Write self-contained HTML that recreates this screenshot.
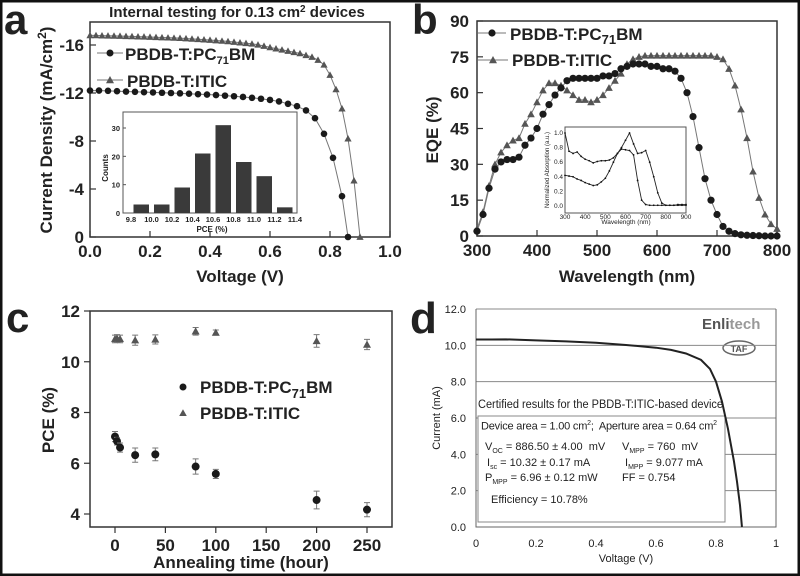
<!DOCTYPE html>
<html><head><meta charset="utf-8"><style>
html,body{margin:0;padding:0;background:#fff}
svg{display:block}
.b{font-family:"Liberation Sans",sans-serif;font-weight:bold;fill:#222}
.r{font-family:"Liberation Sans",sans-serif;fill:#222}
</style></head><body>
<svg id="fig" width="800" height="576" viewBox="0 0 800 576" xmlns="http://www.w3.org/2000/svg">
<rect x="0" y="0" width="800" height="576" fill="#fff"/>
<rect x="1" y="1" width="798" height="574" fill="none" stroke="#111" stroke-width="3"/>
<!-- Panel a static -->
<text class="b" x="4" y="34" font-size="42">a</text>
<text class="b" x="237" y="17" font-size="15" text-anchor="middle">Internal testing for 0.13 cm<tspan dy="-5" font-size="10">2</tspan><tspan dy="5"> devices</tspan></text>
<text class="b" x="0" y="0" font-size="17" text-anchor="middle" transform="translate(52,130) rotate(-90)">Current Density (mA/cm<tspan dy="-6" font-size="12">2</tspan><tspan dy="6">)</tspan></text>
<text class="b" x="240" y="282" font-size="17" text-anchor="middle">Voltage (V)</text>
<text class="b" x="125" y="60" font-size="17">PBDB-T:PC<tspan dy="4" font-size="11">71</tspan><tspan dy="-4">BM</tspan></text>
<text class="b" x="127" y="87" font-size="17">PBDB-T:ITIC</text>
<text class="r" x="210" y="119" font-size="8.5" text-anchor="middle">PCE Distribution of PBDB-T:ITIC devices</text>
<text class="b" x="0" y="0" font-size="8" text-anchor="middle" transform="translate(108,168) rotate(-90)">Counts</text>
<text class="b" x="212" y="232" font-size="8" text-anchor="middle">PCE (%)</text>
<!-- Panel b static -->
<text class="b" x="412" y="34" font-size="42">b</text>
<text class="b" x="0" y="0" font-size="17" text-anchor="middle" transform="translate(438,130) rotate(-90)">EQE (%)</text>
<text class="b" x="627" y="282" font-size="17" text-anchor="middle">Wavelength (nm)</text>
<text class="b" x="510" y="40" font-size="17">PBDB-T:PC<tspan dy="4" font-size="13">71</tspan><tspan dy="-4">BM</tspan></text>
<text class="b" x="512" y="66" font-size="17">PBDB-T:ITIC</text>
<text class="r" x="0" y="0" font-size="6" text-anchor="middle" transform="translate(549,170) rotate(-90)">Normalized Absorption (a.u.)</text>
<text class="r" x="626" y="224" font-size="6.5" text-anchor="middle">Wavelength (nm)</text>
<!-- Panel c static -->
<text class="b" x="6" y="332" font-size="42">c</text>
<text class="b" x="0" y="0" font-size="17" text-anchor="middle" transform="translate(54,420) rotate(-90)">PCE (%)</text>
<text class="b" x="241" y="568" font-size="17" text-anchor="middle">Annealing time (hour)</text>
<text class="b" x="200" y="393" font-size="17">PBDB-T:PC<tspan dy="5" font-size="13">71</tspan><tspan dy="-5">BM</tspan></text>
<text class="b" x="200" y="419" font-size="17">PBDB-T:ITIC</text>
<!-- Panel d static -->
<text class="b" x="410" y="333" font-size="44">d</text>
<text class="r" x="0" y="0" font-size="11" text-anchor="middle" transform="translate(440,418) rotate(-90)">Current (mA)</text>
<text class="r" x="626" y="562" font-size="11" text-anchor="middle">Voltage (V)</text>
<text class="b" x="702" y="329" font-size="15" style="fill:#555">Enli<tspan style="fill:#999">tech</tspan></text>
<ellipse cx="739" cy="348" rx="16" ry="7" fill="#fff" stroke="#666" stroke-width="1.5"/>
<text class="b" x="739" y="352" font-size="9" text-anchor="middle" style="fill:#555">TAF</text>
</svg>
<script>
const NS='http://www.w3.org/2000/svg';
const fig=document.getElementById('fig');
function mk(tag,attrs){const e=document.createElementNS(NS,tag);for(const k in attrs)e.setAttribute(k,attrs[k]);fig.appendChild(e);return e;}
function lin(d0,d1,r0,r1){return v=>r0+(v-d0)*(r1-r0)/(d1-d0);}

// ===== Panel a data =====
const aPcV=[0,0.03,0.06,0.09,0.12,0.15,0.18,0.21,0.24,0.27,0.30,0.33,0.36,0.39,0.42,0.45,0.48,0.51,0.54,0.57,0.60,0.63,0.66,0.69,0.72,0.75,0.78,0.81,0.84,0.86];
const aPcJ=[-12.2,-12.2,-12.18,-12.15,-12.12,-12.1,-12.07,-12.05,-12.02,-12.0,-11.97,-11.94,-11.9,-11.87,-11.83,-11.78,-11.73,-11.67,-11.6,-11.52,-11.42,-11.3,-11.1,-10.9,-10.55,-9.9,-8.6,-6.6,-3.4,0];
const aItV=[0,0.02,0.04,0.06,0.08,0.10,0.12,0.14,0.16,0.18,0.20,0.22,0.24,0.26,0.28,0.30,0.32,0.34,0.36,0.38,0.40,0.42,0.44,0.46,0.48,0.50,0.52,0.54,0.56,0.58,0.60,0.62,0.64,0.66,0.68,0.70,0.72,0.74,0.76,0.78,0.80,0.82,0.84,0.86,0.88,0.90];
const aItJ=[-16.8,-16.8,-16.78,-16.77,-16.76,-16.75,-16.73,-16.72,-16.7,-16.69,-16.67,-16.65,-16.63,-16.61,-16.59,-16.57,-16.54,-16.51,-16.48,-16.45,-16.42,-16.38,-16.34,-16.3,-16.25,-16.2,-16.15,-16.1,-16.02,-15.92,-15.8,-15.7,-15.6,-15.5,-15.4,-15.3,-15.15,-15.0,-14.75,-14.35,-13.5,-12.3,-10.7,-8.2,-4.7,0];
const aXTicks=[0,0.2,0.4,0.6,0.8,1.0];
const aXLabels=['0.0','0.2','0.4','0.6','0.8','1.0'];
const aYTicks=[0,-4,-8,-12,-16];
const aYLabels=['0','-4','-8','-12','-16'];
const histBins=[9.8,10.0,10.2,10.4,10.6,10.8,11.0,11.2];
const histCounts=[3,3,9,21,31,18,13,2];
const histXTicks=[9.8,10.0,10.2,10.4,10.6,10.8,11.0,11.2,11.4];
const histXLabels=['9.8','10.0','10.2','10.4','10.6','10.8','11.0','11.2','11.4'];
const histYTicks=[0,10,20,30];

// ===== Panel b data =====
const bWl=[300,310,320,330,340,350,360,370,380,390,400,410,420,430,440,450,460,470,480,490,500,510,520,530,540,550,560,570,580,590,600,610,620,630,640,650,660,670,680,690,700,710,720,730,740,750,760,770,780,790,800];
const bPc=[2,9,20,28,31,32,32,33,38,41,45,51,55,59,62,65,66,66,66,66,66,67,67,68,70,71,72,72,72,71,71,70,70,69,66,60,50,37,24,15,9,4,2,1,0.5,0.3,0.2,0.1,0,0,0];
const bIt=[3,10,21,30,35,38,40,41,47,51,56,61,64,64,63,61,59,57,57,56,57,59,62,65,68,72,74,75,75.5,75.5,75.5,75.5,75.5,75.5,75.5,75.5,75.5,75.5,75.5,75.5,75,74,70,63,53,41,27,16,9,5,3];
const bXTicks=[300,400,500,600,700,800];
const bYTicks=[0,15,30,45,60,75,90];
const absWl=[300,320,340,360,380,400,420,440,460,480,500,520,540,560,580,600,620,640,660,680,700,720,740,760,780,800,820,840,860,880,900];
const absPc=[1.0,0.75,0.72,0.74,0.68,0.64,0.62,0.59,0.61,0.62,0.62,0.63,0.66,0.72,0.78,0.77,0.76,0.7,0.35,0.08,0.02,0.01,0.01,0.01,0.01,0.01,0.01,0.01,0.01,0.01,0.01];
const absIt=[0.42,0.41,0.4,0.37,0.35,0.32,0.3,0.28,0.29,0.33,0.38,0.48,0.6,0.72,0.8,0.9,1.0,0.85,0.72,0.73,0.76,0.6,0.4,0.18,0.04,0.01,0.01,0.01,0.02,0.02,0.02];
const absXTicks=[300,400,500,600,700,800,900];
const absYTicks=[0,0.2,0.4,0.6,0.8,1.0];

// ===== Panel c data =====
const cTime=[0,2,5,20,40,80,100,200,250];
const cPc=[7.05,6.87,6.62,6.32,6.35,5.87,5.58,4.55,4.17];
const cPcErr=[0.2,0.15,0.18,0.28,0.25,0.3,0.18,0.35,0.28];
const cIt=[10.9,10.92,10.9,10.85,10.88,11.2,11.15,10.82,10.68];
const cItErr=[0.15,0.15,0.15,0.2,0.18,0.15,0.1,0.25,0.2];
const cXTicks=[0,50,100,150,200,250];
const cYTicks=[4,6,8,10,12];

// ===== Panel d data =====
const dV=[0,0.05,0.1,0.2,0.3,0.4,0.5,0.6,0.65,0.7,0.75,0.78,0.8,0.82,0.84,0.86,0.87,0.88,0.8865];
const dI=[10.32,10.32,10.33,10.27,10.22,10.14,10.02,9.87,9.75,9.55,9.2,8.7,8.0,6.9,5.4,3.6,2.5,1.2,0];
const dXTicks=[0,0.2,0.4,0.6,0.8,1];
const dXLabels=['0','0.2','0.4','0.6','0.8','1'];
const dYTicks=[0,2,4,6,8,10,12];
const dYLabels=['0.0','2.0','4.0','6.0','8.0','10.0','12.0'];

function tri(x,y,s,fill){return mk('polygon',{points:`${x},${y-s} ${x-s},${y+s*0.8} ${x+s},${y+s*0.8}`,fill:fill});}
function poly(xs,ys,fx,fy,color,w){return mk('polyline',{points:xs.map((v,i)=>fx(v)+','+fy(ys[i])).join(' '),fill:'none',stroke:color,'stroke-width':w});}

// ---------- Panel a ----------
{
const X=lin(0,1,90,390), Y=lin(0,-16,237,45);
let e=mk('rect',{x:90,y:22,width:300,height:215,fill:'none',stroke:'#333','stroke-width':1.5});


aXTicks.forEach((t,i)=>{
  let k=mk('line',{x1:X(t),x2:X(t),y1:237,y2:231,stroke:'#333','stroke-width':1.2});
  
  
  let l=mk('text',{x:X(t),y:257,'font-size':17,'text-anchor':'middle',class:'b'});l.textContent=aXLabels[i];
  
  
});
aYTicks.forEach((t,i)=>{
  let k=mk('line',{x1:90,x2:96,y1:Y(t),y2:Y(t),stroke:'#333','stroke-width':1.2});
  
  
  let l=mk('text',{x:84,y:Y(t)+6,'font-size':17,'text-anchor':'end',class:'b'});l.textContent=aYLabels[i];
  
  
});
let p1=poly(aItV,aItJ,X,Y,'#777',1);


aItV.forEach((v,i)=>{let m=tri(X(v),Y(aItJ[i]),3.6,'#555');
  
  });
let p2=poly(aPcV,aPcJ,X,Y,'#777',1);


aPcV.forEach((v,i)=>{let m=mk('circle',{cx:X(v),cy:Y(aPcJ[i]),r:3.3,fill:'#1a1a1a'});
  
  });
let lg1=mk('line',{x1:97,x2:123,y1:53,y2:53,stroke:'#777'});


let lm1=mk('circle',{cx:110,cy:53,r:3.5,fill:'#1a1a1a'});


let lg2=mk('line',{x1:97,x2:123,y1:80,y2:80,stroke:'#777'});


let lm2=tri(110,80,4,'#555');


const HX=lin(9.8,11.4,131,295), HY=lin(0,30,213,128);
let ib=mk('rect',{x:123,y:112,width:174,height:101,fill:'#fff',stroke:'#555','stroke-width':1});


histBins.forEach((b,i)=>{
  const x0=HX(b)+2.5, x1=HX(b+0.2)-2.5;
  let r=mk('rect',{x:x0,y:HY(histCounts[i]),width:x1-x0,height:HY(0)-HY(histCounts[i]),fill:'#3a3a3a'});
  
  
});
histXTicks.forEach((t,i)=>{
  let l=mk('text',{x:HX(t),y:222,'font-size':7.5,'text-anchor':'middle',class:'b'});l.textContent=histXLabels[i];
  
  
});
histYTicks.forEach(t=>{
  let l=mk('text',{x:120,y:HY(t)+3,'font-size':7.5,'text-anchor':'end',class:'b'});l.textContent=t;
  
  
  let k=mk('line',{x1:123,x2:126,y1:HY(t),y2:HY(t),stroke:'#555'});
  
  
});
}

// ---------- Panel b ----------
{
const X=lin(300,800,477,777), Y=lin(0,90,236,21);
let e=mk('rect',{x:477,y:21,width:300,height:215,fill:'none',stroke:'#333','stroke-width':1.5});


bXTicks.forEach(t=>{
  let k=mk('line',{x1:X(t),x2:X(t),y1:236,y2:230,stroke:'#333','stroke-width':1.2});
  
  
  let l=mk('text',{x:X(t),y:256,'font-size':17,'text-anchor':'middle',class:'b'});l.textContent=t;
  
  
});
bYTicks.forEach(t=>{
  let k=mk('line',{x1:477,x2:483,y1:Y(t),y2:Y(t),stroke:'#333','stroke-width':1.2});
  
  
  let l=mk('text',{x:469,y:Y(t)+6,'font-size':17,'text-anchor':'end',class:'b'});l.textContent=t;
  
  
});
let p1=poly(bWl,bIt,X,Y,'#777',1);


bWl.forEach((w,i)=>{let m=tri(X(w),Y(bIt[i]),3.8,'#555');
  
  });
let p2=poly(bWl,bPc,X,Y,'#777',1);


bWl.forEach((w,i)=>{let m=mk('circle',{cx:X(w),cy:Y(bPc[i]),r:3.6,fill:'#1a1a1a'});
  
  });
let lg1=mk('line',{x1:478,x2:506,y1:33,y2:33,stroke:'#777'});


let lm1=mk('circle',{cx:492,cy:33,r:3.6,fill:'#1a1a1a'});


let lg2=mk('line',{x1:478,x2:508,y1:60,y2:60,stroke:'#777'});


let lm2=tri(493,60,4,'#555');


const IX=lin(300,900,565,686), IY=lin(0,1,206,133);
let ib=mk('rect',{x:565,y:127,width:121,height:86,fill:'#fff',stroke:'#555','stroke-width':1});


let q1=poly(absWl,absPc,IX,IY,'#222',0.9);


let q2=poly(absWl,absIt,IX,IY,'#222',0.9);


absWl.forEach((w,i)=>{
  let a=mk('circle',{cx:IX(w),cy:IY(absPc[i]),r:0.9,fill:'#111'});
  
  
  let b=mk('circle',{cx:IX(w),cy:IY(absIt[i]),r:0.9,fill:'#111'});
  
  
});
absXTicks.forEach(t=>{
  let l=mk('text',{x:IX(t),y:219,'font-size':6.5,'text-anchor':'middle',class:'r'});l.textContent=t;
  
  
});
absYTicks.forEach(t=>{
  let l=mk('text',{x:563,y:IY(t)+2,'font-size':6.5,'text-anchor':'end',class:'r'});l.textContent=t.toFixed(1);
  
  
});
}

// ---------- Panel c ----------
{
const X=lin(0,250,115,367), Y=lin(4,12,514,311);
let e=mk('rect',{x:90,y:311,width:302,height:216,fill:'none',stroke:'#333','stroke-width':1.5});


cXTicks.forEach(t=>{
  let k=mk('line',{x1:X(t),x2:X(t),y1:527,y2:533,stroke:'#333','stroke-width':1.2});
  
  
  let l=mk('text',{x:X(t),y:551,'font-size':17,'text-anchor':'middle',class:'b'});l.textContent=t;
  
  
});
cYTicks.forEach(t=>{
  let k=mk('line',{x1:84,x2:90,y1:Y(t),y2:Y(t),stroke:'#333','stroke-width':1.2});
  
  
  let l=mk('text',{x:80,y:Y(t)+6,'font-size':17,'text-anchor':'end',class:'b'});l.textContent=t;
  
  
});
function err(x,v,d,name){
  let g=mk('path',{d:`M${x},${Y(v-d)}V${Y(v+d)}M${x-3},${Y(v-d)}h6M${x-3},${Y(v+d)}h6`,stroke:'#777','stroke-width':1,fill:'none'});
  
  
}
cTime.forEach((t,i)=>{
  err(X(t),cIt[i],cItErr[i],'panel-c-itic-error-bar');
  let m=tri(X(t),Y(cIt[i]),4,'#555');
  
  
  err(X(t),cPc[i],cPcErr[i],'panel-c-pc71bm-error-bar');
  let c=mk('circle',{cx:X(t),cy:Y(cPc[i]),r:4,fill:'#1a1a1a'});
  
  
});
let lm1=mk('circle',{cx:183,cy:387,r:3.5,fill:'#1a1a1a'});


let lm2=tri(183,413,3.8,'#555');


}

// ---------- Panel d ----------
{
const X=lin(0,1,476,776), Y=lin(0,12,527,309);
dYTicks.forEach((t,i)=>{
  let g=mk('line',{x1:476,x2:776,y1:Y(t),y2:Y(t),stroke:'#8a8a8a','stroke-width':1});
  
  
  let l=mk('text',{x:466,y:Y(t)+4,'font-size':11,'text-anchor':'end',class:'r'});l.textContent=dYLabels[i];
  
  
});
dXTicks.forEach((t,i)=>{
  let l=mk('text',{x:X(t),y:547,'font-size':11,'text-anchor':'middle',class:'r'});l.textContent=dXLabels[i];
  
  
});
let ax=mk('path',{d:'M476,309V527H776V309',fill:'none',stroke:'#666','stroke-width':1});


let bx=mk('rect',{x:478,y:416,width:247,height:106,fill:'#fff',stroke:'#888','stroke-width':1});


let cv=poly(dV,dI,X,Y,'#222',2);


let t1=mk('text',{x:478,y:408,'font-size':11.5,'textLength':245,'lengthAdjust':'spacingAndGlyphs',class:'r'});t1.textContent='Certified results for the PBDB-T:ITIC-based device';


}
</script>
<div style="position:absolute;left:0;top:0;width:800px;height:576px;pointer-events:none;font-family:'Liberation Sans',sans-serif;font-size:11px;color:#222">
<div style="position:absolute;left:481px;top:420px;letter-spacing:-0.2px">Device area = 1.00 cm<sup style="font-size:7px">2</sup>;&nbsp; Aperture area = 0.64 cm<sup style="font-size:7px">2</sup></div>
<div style="position:absolute;left:485px;top:441px">V<sub style="font-size:7px">OC</sub> = 886.50 ± 4.00&nbsp; mV</div>
<div style="position:absolute;left:622px;top:441px">V<sub style="font-size:7px">MPP</sub> = 760&nbsp; mV</div>
<div style="position:absolute;left:487px;top:457px">I<sub style="font-size:7px">sc</sub> = 10.32 ± 0.17 mA</div>
<div style="position:absolute;left:625px;top:457px">I<sub style="font-size:7px">MPP</sub> = 9.077 mA</div>
<div style="position:absolute;left:485px;top:472px">P<sub style="font-size:7px">MPP</sub> = 6.96 ± 0.12 mW</div>
<div style="position:absolute;left:622px;top:472px">FF = 0.754</div>
<div style="position:absolute;left:491px;top:494px">Efficiency = 10.78%</div>
</div>
</body></html>
